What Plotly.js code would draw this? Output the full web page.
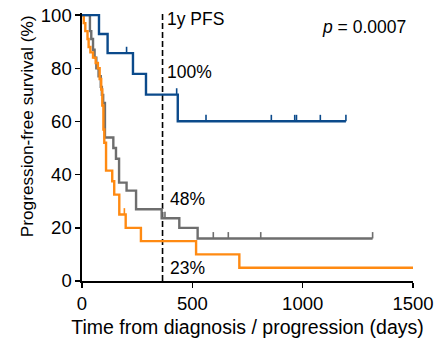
<!DOCTYPE html>
<html>
<head>
<meta charset="utf-8">
<script src="https://cdn.plot.ly/plotly-3.0.1.min.js"></script>
<style>html,body{margin:0;padding:0;background:#fff;}#chart{width:436px;height:341px;}</style>
</head>
<body>
<div id="chart"></div>
<script>
// Kaplan-Meier step data (time in days, survival in %)
var blueT = [0, 77, 116, 231, 290, 434, 1196];
var blueS = [100, 92.9, 85.7, 77.9, 70.1, 60.1, 60.1];
var blueCensor = [202, 429, 562, 858, 964, 972, 1080, 1196];

var grayT = [0, 36, 42, 50, 57, 65, 75, 85, 90, 96, 104, 142, 154, 168, 202, 245, 361, 441, 524, 1317];
var grayS = [100, 94, 91, 87, 84, 80, 77, 73, 70, 67, 54, 50, 46, 37, 34, 27, 23.6, 20, 16, 16];
var grayCensor = [376, 595, 663, 810, 1317];

var orangeT = [0, 8, 15, 25, 30, 38, 50, 62, 72, 80, 87, 92, 97, 101, 109, 137, 146, 169, 198, 267, 517, 713, 1500];
var orangeS = [100, 97, 94, 91, 88, 86, 84, 82, 80, 76, 72, 66, 57, 52, 41.5, 37.5, 32.5, 25, 20, 15, 10, 5, 5];
var orangeCensor = [192];

var xTicks = [0, 500, 1000, 1500];
var yTicks = [0, 20, 40, 60, 80, 100];

var colBlue = '#0b4a8b', colGray = '#6e6e6e', colOrange = '#ff8a12';

function stepAt(T, S, t) {
  var v = S[0];
  for (var i = 0; i < T.length; i++) { if (T[i] <= t) v = S[i]; }
  return v;
}
function censorTrace(T, S, C, col) {
  var xs = [], ys = [];
  C.forEach(function (c) {
    var s = stepAt(T, S, c);
    xs.push(c, c, null); ys.push(s, s + 2.4, null);
  });
  return {x: xs, y: ys, mode: 'lines', line: {color: col, width: 1.6}, hoverinfo: 'skip', showlegend: false};
}
function curve(T, S, col) {
  return {x: T, y: S, mode: 'lines', line: {color: col, width: 2.4, shape: 'hv'}, showlegend: false};
}

var data = [
  {x: [365, 365], y: [0, 101], mode: 'lines', line: {color: '#000', width: 1.6, dash: '6px,3px'}, showlegend: false},
  curve(grayT, grayS, colGray), censorTrace(grayT, grayS, grayCensor, colGray),
  curve(orangeT, orangeS, colOrange), censorTrace(orangeT, orangeS, orangeCensor, colOrange),
  curve(blueT, blueS, colBlue), censorTrace(blueT, blueS, blueCensor, colBlue)
];

var fam = 'Liberation Sans, Arial, Helvetica, sans-serif';
function f(sz) { return {family: fam, size: sz, color: '#000'}; }
var layout = {
  width: 436, height: 341,
  margin: {l: 82, r: 23, t: 13, b: 60},
  paper_bgcolor: '#fff', plot_bgcolor: '#fff',
  font: f(18.5),
  showlegend: false,
  xaxis: {
    range: [0, 1500], tickvals: xTicks, ticktext: xTicks.map(String), tickfont: f(18.5),
    showgrid: false, zeroline: false, showline: true, linecolor: '#000', linewidth: 1.6,
    ticks: 'outside', ticklen: 5, tickwidth: 1.6, tickcolor: '#000',
    title: {text: 'Time from diagnosis / progression (days)', font: f(19.5), standoff: 7}
  },
  yaxis: {
    range: [0, 100.8], tickvals: yTicks, ticktext: yTicks.map(String), tickfont: f(18.5),
    showgrid: false, zeroline: false, showline: true, linecolor: '#000', linewidth: 1.6,
    ticks: 'outside', ticklen: 5, tickwidth: 1.6, tickcolor: '#000'
  },
  annotations: [
    {x: -0.166, y: 0.578, xref: 'paper', yref: 'paper', text: 'Progression-free survival (%)', textangle: -90,
     showarrow: false, xanchor: 'center', yanchor: 'middle', font: f(17.2)},
    {x: 375, y: 98.5, xref: 'x', yref: 'y', text: '1y PFS', showarrow: false, xanchor: 'left', yanchor: 'middle', font: f(17.5)},
    {x: 375, y: 78.5, xref: 'x', yref: 'y', text: '100%', showarrow: false, xanchor: 'left', yanchor: 'middle', font: f(17.5)},
    {x: 388, y: 30.8, xref: 'x', yref: 'y', text: '48%', showarrow: false, xanchor: 'left', yanchor: 'middle', font: f(17.5)},
    {x: 388, y: 4.9, xref: 'x', yref: 'y', text: '23%', showarrow: false, xanchor: 'left', yanchor: 'middle', font: f(17.5)},
    {x: 1478, y: 95.5, xref: 'x', yref: 'y', text: '<i>p</i> = 0.0007', showarrow: false, xanchor: 'right', yanchor: 'middle', font: f(17.5)}
  ]
};
Plotly.newPlot('chart', data, layout, {staticPlot: true, displayModeBar: false});
</script>
</body>
</html>
